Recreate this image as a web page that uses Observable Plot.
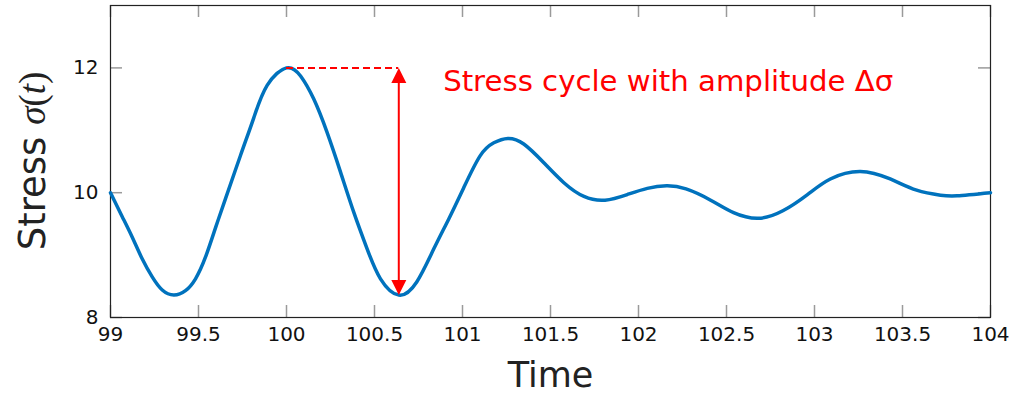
<!DOCTYPE html>
<html>
<head>
<meta charset="utf-8">
<script src="https://cdn.jsdelivr.net/npm/d3@7"></script>
<script src="https://cdn.jsdelivr.net/npm/@observablehq/plot@0.6"></script>
<style>
  html, body { margin: 0; padding: 0; background: #fff; }
  #chart { width: 1010px; height: 395px; }
</style>
</head>
<body>
<div id="chart"></div>
<script>
// Damped stress response sampled over time
const time = [
  99.0, 99.066, 99.123, 99.18, 99.237, 99.294, 99.36, 99.426, 99.483, 99.54,
  99.597, 99.653, 99.739, 99.814, 99.89, 100.0, 100.08, 100.155, 100.23, 100.307,
  100.383, 100.458, 100.534, 100.638, 100.74, 100.837, 100.922, 101.007, 101.1, 101.178,
  101.258, 101.348, 101.462, 101.576, 101.69, 101.81, 101.936, 102.05, 102.16, 102.27,
  102.41, 102.54, 102.68, 102.82, 102.96, 103.09, 103.26, 103.43, 103.58, 103.716,
  103.81, 104.0
];
const stress = [
  10.0, 9.62, 9.29, 8.94, 8.65, 8.44, 8.36, 8.43, 8.62, 8.97,
  9.44, 9.9, 10.6, 11.2, 11.72, 12.0, 11.87, 11.5, 10.97, 10.33,
  9.68, 9.1, 8.62, 8.36, 8.57, 9.1, 9.58, 10.08, 10.59, 10.8,
  10.87, 10.78, 10.48, 10.16, 9.94, 9.88, 9.97, 10.07, 10.11, 10.06,
  9.88, 9.68, 9.59, 9.71, 9.97, 10.22, 10.34, 10.22, 10.04, 9.96,
  9.95, 10.0
];

// Axis ticks
const xTicks = [99, 99.5, 100, 100.5, 101, 101.5, 102, 102.5, 103, 103.5, 104];
const yTicks = [8, 10, 12];

// Highlighted stress cycle: peak and following trough
const cycleTimes = [100.0, 100.638];
const cycleStress = [12.0, 8.36];
const noteText = "Stress cycle with amplitude Δσ";

const series = time.map((t, i) => ({t, s: stress[i]}));

const W = 1010, H = 395;
const mTop = 5, mRight = 20, mBottom = 78, mLeft = 110;
const innerW = W - mLeft - mRight, innerH = H - mTop - mBottom;
const tickLen = 12;
const red = "#ff0000";
const blue = "#0072bd";

// Filled triangular arrow heads with the tip at the anchor point
const headUp = {draw(c) { c.moveTo(0, 0); c.lineTo(-7.5, 15); c.lineTo(7.5, 15); c.closePath(); }};
const headDown = {draw(c) { c.moveTo(0, 0); c.lineTo(-7.5, -15); c.lineTo(7.5, -15); c.closePath(); }};

const chart = Plot.plot({
  width: W,
  height: H,
  marginTop: mTop,
  marginRight: mRight,
  marginBottom: mBottom,
  marginLeft: mLeft,
  style: {fontFamily: "DejaVu Sans", fontSize: "20px", color: "#111", background: "#fff"},
  x: {domain: [99, 104]},
  y: {domain: [8, 13]},
  marks: [
    // inward tick marks on all four sides
    Plot.tickX(xTicks, {x: d => d, stroke: "#9a9a9a", strokeWidth: 1.5, insetTop: innerH - tickLen}),
    Plot.tickX(xTicks, {x: d => d, stroke: "#9a9a9a", strokeWidth: 1.5, insetBottom: innerH - tickLen}),
    Plot.tickY(yTicks, {y: d => d, stroke: "#9a9a9a", strokeWidth: 1.5, insetRight: innerW - tickLen}),
    Plot.tickY(yTicks, {y: d => d, stroke: "#9a9a9a", strokeWidth: 1.5, insetLeft: innerW - tickLen}),
    Plot.axisX({ticks: xTicks, tickSize: 0, tickPadding: 9, label: null, tickFormat: d => String(d)}),
    Plot.axisY({ticks: yTicks, tickSize: 0, tickPadding: 12, label: null, tickFormat: d => String(d)}),
    Plot.frame({stroke: "#222", strokeWidth: 1.2}),
    Plot.line(series, {x: "t", y: "s", stroke: blue, strokeWidth: 3.5, curve: "natural"}),
    // dashed reference from the peak to the arrow
    Plot.ruleY([cycleStress[0]], {x1: cycleTimes[0], x2: cycleTimes[1], stroke: red, strokeWidth: 2, strokeDasharray: "7,4"}),
    // double-headed arrow spanning the cycle
    Plot.ruleX([cycleTimes[1]], {y1: cycleStress[0] - 0.2, y2: cycleStress[1] + 0.2, stroke: red, strokeWidth: 2}),
    Plot.dot([{t: cycleTimes[1], s: cycleStress[0]}], {x: "t", y: "s", symbol: headUp, fill: red, stroke: null, r: 8}),
    Plot.dot([{t: cycleTimes[1], s: cycleStress[1]}], {x: "t", y: "s", symbol: headDown, fill: red, stroke: null, r: 8}),
    Plot.text([noteText], {x: 100.89, y: 11.63, text: d => d, textAnchor: "start", lineAnchor: "bottom", fill: red, fontSize: 29.2, fontFamily: "DejaVu Sans"}),
    // x axis title
    Plot.text(["Time"], {frameAnchor: "bottom", text: d => d, lineAnchor: "bottom", dy: 69, fontSize: 35, fill: "#222"})
  ]
});

document.getElementById("chart").appendChild(chart);

// y axis title with math-italic symbols
const svg = d3.select(chart);
const yl = svg.append("text")
  .attr("transform", `translate(45,${mTop + innerH / 2}) rotate(-90)`)
  .attr("text-anchor", "middle")
  .attr("font-family", "DejaVu Sans")
  .attr("font-size", 37)
  .attr("fill", "#222");
yl.append("tspan").text("Stress ");
yl.append("tspan").attr("font-family", "Liberation Serif").attr("font-style", "italic").text("σ");
yl.append("tspan").attr("font-family", "Liberation Serif").text("(");
yl.append("tspan").attr("font-family", "Liberation Serif").attr("font-style", "italic").text("t");
yl.append("tspan").attr("font-family", "Liberation Serif").text(")");
</script>
</body>
</html>
